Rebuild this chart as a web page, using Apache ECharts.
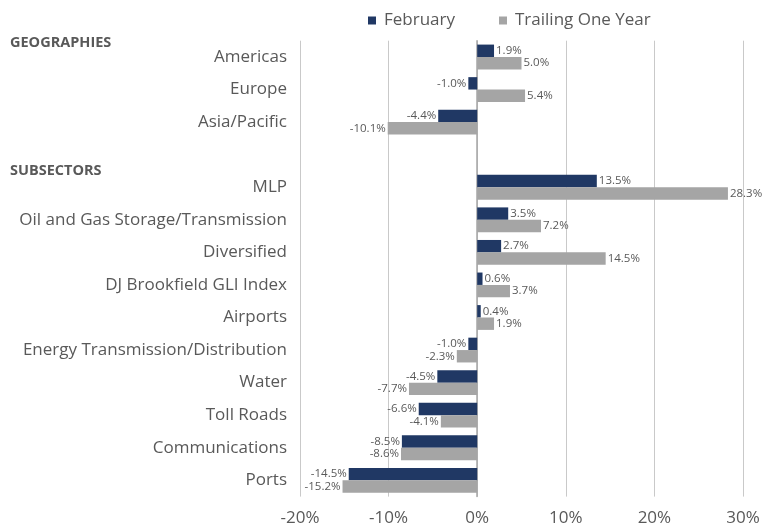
<!DOCTYPE html>
<html><head><meta charset="utf-8">
<script src="https://cdn.jsdelivr.net/npm/echarts@6/dist/echarts.min.js"></script>
<style>html,body{margin:0;padding:0;background:#fff}#c{width:781px;height:529px}</style>
</head><body><div id="c"></div>
<script>
var categories = ['Americas','Europe','Asia/Pacific','','MLP','Oil and Gas Storage/Transmission','Diversified','DJ Brookfield GLI Index','Airports','Energy Transmission/Distribution','Water','Toll Roads','Communications','Ports'];
var february = [1.9,-1.0,-4.4,null,13.5,3.5,2.7,0.6,0.4,-1.0,-4.5,-6.6,-8.5,-14.5];
var trailing = [5.0,5.4,-10.1,null,28.3,7.2,14.5,3.7,1.9,-2.3,-7.7,-4.1,-8.6,-15.2];
var seriesNames = ['February','Trailing One Year'];
var xTicks = [-20,-10,0,10,20,30];

var FONT = '"Open Sans"';
var TXT = '#595959';
function mk(vals){
  return vals.map(function(v){
    if(v===null) return {value:null};
    return {value:v,label:{position:v<0?'left':'right'}};
  });
}
var chart = echarts.init(document.getElementById('c'));
chart.setOption({
  animation:false,
  textStyle:{fontFamily:FONT},
  legend:{top:7,left:363,itemWidth:8,itemHeight:8,itemGap:44,icon:'rect',
    textStyle:{fontFamily:FONT,fontSize:17,color:TXT,padding:[0,0,0,3]},data:seriesNames},
  grid:{left:300,right:38,top:40.7,bottom:32.4,containLabel:false},
  xAxis:{type:'value',min:xTicks[0],max:xTicks[xTicks.length-1],interval:10,
    axisLine:{show:false},axisTick:{show:false},
    axisLabel:{fontFamily:FONT,fontSize:17,color:TXT,margin:13,formatter:function(v){return v+'%';}},
    splitLine:{lineStyle:{color:'#c9c9c9',width:1}}},
  yAxis:{type:'category',data:categories,inverse:true,
    axisLine:{show:true,onZero:true,lineStyle:{color:'#a6a6a6',width:1.5}},axisTick:{show:false},
    axisLabel:{fontFamily:FONT,fontSize:17,color:TXT,margin:13}},
  graphic:[
    {type:'text',left:10,top:35,style:{text:'GEOGRAPHIES',font:'bold 14.5px '+FONT,fill:TXT}},
    {type:'text',left:10,top:163.5,style:{text:'SUBSECTORS',font:'bold 14.5px '+FONT,fill:TXT}}
  ],
  series:[
    {name:seriesNames[0],type:'bar',data:mk(february),barWidth:12.4,barGap:'0%',
      itemStyle:{color:'#203864'},
      label:{show:true,fontFamily:FONT,fontSize:11.5,color:TXT,distance:2,formatter:function(p){return p.value.toFixed(1)+'%';}}},
    {name:seriesNames[1],type:'bar',data:mk(trailing),barWidth:12.4,barGap:'0%',
      itemStyle:{color:'#a5a5a5'},
      label:{show:true,fontFamily:FONT,fontSize:11.5,color:TXT,distance:2,formatter:function(p){return p.value.toFixed(1)+'%';}}}
  ]
});
</script></body></html>
